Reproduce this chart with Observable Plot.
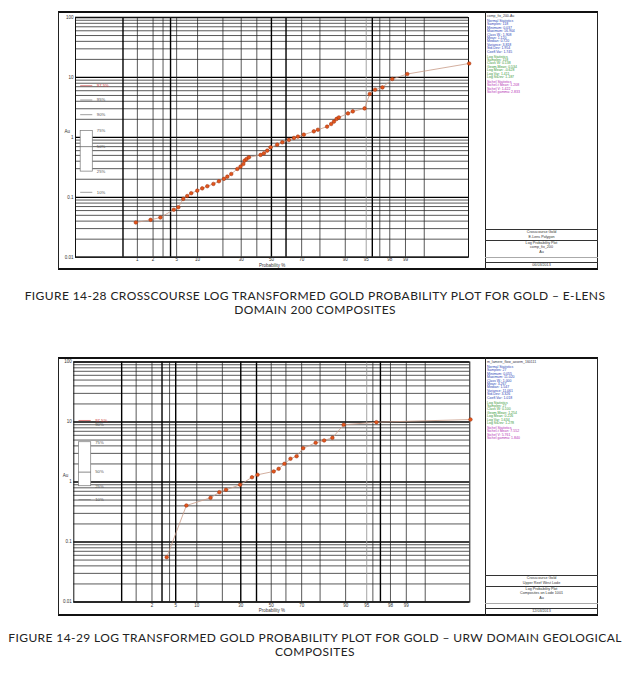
<!DOCTYPE html>
<html><head><meta charset="utf-8">
<script src="https://cdn.jsdelivr.net/npm/d3@7"></script>
<script src="https://cdn.jsdelivr.net/npm/@observablehq/plot@0.6"></script>
<style>
body{margin:0;background:#fff;width:630px;height:676px;position:relative;overflow:hidden;font-family:"Liberation Sans",Arial,sans-serif}
.abs{position:absolute}
.cap{position:absolute;left:0;width:630px;text-align:center;font-family:Lato,"Open Sans",sans-serif;font-size:12px;letter-spacing:0.4px;line-height:14px;color:#222;white-space:nowrap}
.st{position:absolute;font-size:3.5px;line-height:3.5px;white-space:nowrap}
.tb{position:absolute;font-size:3.7px;line-height:3.7px;white-space:nowrap;text-align:center;color:#333}
.hl{position:absolute;height:0;border-top:1px solid #333}
</style></head><body>
<script>
// ---------- data: Figure 14-28 (E-Lens domain 200) ----------
const probA = [0.93,1.8,2.7,4.5,5.3,6.3,7.2,8.2,9.9,11.5,13.3,15.7,18.1,20.5,22.2,24.3,27.7,29.6,31.3,32.1,33.3,34.8,42.5,44.8,47.1,49.4,54,57.5,61.9,65.2,67.7,71.3,76.9,79,83.3,85,86.1,87.1,87.9,90.8,92.1,94.7,95.6,96.4,97.3,98.2,99.08,99.97];
const auA = [0.038,0.042,0.046,0.062,0.068,0.094,0.105,0.117,0.129,0.141,0.153,0.167,0.185,0.203,0.221,0.245,0.297,0.325,0.36,0.409,0.436,0.464,0.509,0.541,0.6,0.681,0.755,0.826,0.906,0.977,1.03,1.11,1.26,1.34,1.51,1.67,1.83,2.03,2.15,2.51,2.71,3.04,5.29,6.24,6.81,9.4,11.4,17.1];
const legValsA = [7.27,4.2,2.39,1.27,0.70,0.268,0.121];
const legLabsA = ["97.5%","95%","90%","75%","50%","25%","10%"];
const xTicksA = [1,2,5,10,30,50,70,90,95,98,99];
const vGridA = [0.5,1,2,3,4,5,10,20,30,40,50,60,70,80,90,95,96,97,98,99,99.6];
const vHeavyA = [0.5,4,50,60,96];
const statTitleA = "comp_fix_200-Au";
const normA = ["Normal Statistics","Samples: 118","Minimum: 0.037","Maximum: 16.904","Class W.: 1.908","Mean: 1.120","Median: 0.720","Variance: 3.818","Std.Dev: 1.954","Coeff.Var: 1.745"];
const logA = ["Log Statistics","Samples: 118","Class W: 0.138","Geom.Mean: 0.534","Log Mean: -0.628","Log Var: 1.411","Log StDev: 1.187"];
const sichA = ["Sichel Statistics","Sichel-t Mean: 1.208","Sichel V: 1.422","Sichel gamma: 2.833"];
const blockA = ["Crosscourse Gold","E-Lens Polygon","Log Probability Plot","comp_fix_200","Au"];
const dateA = "06/03/2013";
const captionA = ["FIGURE 14-28 CROSSCOURSE LOG TRANSFORMED GOLD PROBABILITY PLOT FOR GOLD \u2013 E-LENS","DOMAIN 200 COMPOSITES"];

// ---------- data: Figure 14-29 (URW domain) ----------
const probB = [3.6,7.2,14.8,18.6,21.8,29.6,37,40.7,51.7,55.1,59,63,66.9,70.9,77.8,81.9,85.4,89.4,96.5,99.97];
const auB = [0.0558,0.406,0.545,0.676,0.741,0.898,1.2,1.32,1.5,1.66,2.01,2.44,2.69,3.66,4.5,4.92,5.45,8.98,9.93,11.0];
const legValsB = [10.6,9.08,4.6,1.46,0.85,0.51];
const legLabsB = ["97.5%","90%","75%","50%","25%","10%"];
const xTicksB = [2,5,10,30,50,70,90,95,98,99];
const vGridB = [0.5,1,2,3,4,5,10,20,30,40,50,60,70,80,90,95,96,97,98,99,99.6];
const vHeavyB = [0.5,3,5,30,40,97];
const statTitleB = "m_lamere_flow_assem_160111";
const normB = ["Normal Statistics","Samples: 27","Minimum: 0.055","Maximum: 11.020","Class W.: 1.000","Mean: 3.267","Median: 1.547","Variance: 11.061","Std.Dev: 3.326","Coeff.Var: 1.018"];
const logB = ["Log Statistics","Samples: 27","Class W: 0.100","Geom.Mean: 1.254","Log Mean: 0.226","Log Var: 1.634","Log StDev: 1.278"];
const sichB = ["Sichel Statistics","Sichel-t Mean: 7.552","Sichel V: 5.761","Sichel gamma: 1.840"];
const blockB = ["Crosscourse Gold","Upper Reef West Lode","Log Probability Plot","Composites on Lode 1001","Au"];
const dateB = "12/03/2013";
const captionB = ["FIGURE 14-29 LOG TRANSFORMED GOLD PROBABILITY PLOT FOR GOLD \u2013 URW DOMAIN GEOLOGICAL","COMPOSITES"];

const yTickVals = [100,10,1,0.1,0.01];
const yTickLabs = ["100","10","1","0.1","0.01"];

// inverse normal CDF (Acklam)
function probit(p){
  const a=[-3.969683028665376e+01,2.209460984245205e+02,-2.759285104469687e+02,1.383577518672690e+02,-3.066479806614716e+01,2.506628277459239e+00];
  const b=[-5.447609879822406e+01,1.615858368580409e+02,-1.556989798598866e+02,6.680131188771972e+01,-1.328068155288572e+01];
  const c=[-7.784894002430293e-03,-3.223964580411365e-01,-2.400758277161838e+00,-2.549732539343734e+00,4.374664141464968e+00,2.938163982698783e+00];
  const d=[7.784695709041462e-03,3.224671290700398e-01,2.445134137142996e+00,3.754408661907416e+00];
  const pl=0.02425, ph=1-pl; let q,r;
  if(p<pl){q=Math.sqrt(-2*Math.log(p));return (((((c[0]*q+c[1])*q+c[2])*q+c[3])*q+c[4])*q+c[5])/((((d[0]*q+d[1])*q+d[2])*q+d[3])*q+1);}
  if(p<=ph){q=p-0.5;r=q*q;return (((((a[0]*r+a[1])*r+a[2])*r+a[3])*r+a[4])*r+a[5])*q/(((((b[0]*r+b[1])*r+b[2])*r+b[3])*r+b[4])*r+1);}
  q=Math.sqrt(-2*Math.log(1-p));return -(((((c[0]*q+c[1])*q+c[2])*q+c[3])*q+c[4])*q+c[5])/((((d[0]*q+d[1])*q+d[2])*q+d[3])*q+1);
}
const zx = p => probit(p/100);

const hGrid = [];
for (const dec of [0.01,0.1,1,10]) for (let k=1;k<=9;k++) hGrid.push(+(dec*k).toPrecision(3));
hGrid.push(100);
const hDec = [0.01,0.1,1,10,100];

function buildChart(cfg){
  const pts = cfg.prob.map((p,i)=>({p, v: cfg.au[i]}));
  const lv = cfg.legVals;
  const n = lv.length;
  const q75 = lv[n-4], q50 = lv[n-3], q25 = lv[n-2];
  const plot = Plot.plot({
    width: 540, height: cfg.h,
    marginLeft: cfg.ml, marginRight: cfg.mr, marginTop: cfg.mt, marginBottom: cfg.mb,
    style: {background: "transparent", overflow: "visible", fontFamily: "'Liberation Sans', Arial, sans-serif"},
    x: {domain: [-3.4, 3.42], axis: null},
    y: {type: "log", domain: [0.01, 100], axis: null},
    marks: [
      Plot.ruleY(hGrid.filter(v=>!hDec.includes(v)), {stroke: "#222", strokeWidth: 0.75}),
      Plot.ruleY(hDec, {stroke: "#000", strokeWidth: 1.3}),
      Plot.ruleX(cfg.vGrid.filter(v=>!cfg.vHeavy.includes(v) && v!==95), {x: zx, stroke: "#222", strokeWidth: 0.75}),
      Plot.ruleX([95], {x: zx, stroke: "#999", strokeWidth: 0.9}),
      Plot.ruleX(cfg.vHeavy, {x: zx, stroke: "#000", strokeWidth: 1.4}),
      Plot.frame({stroke: "#111", strokeWidth: 1}),
      // box legend
      Plot.rect([0], {x1: -3.31, x2: -3.1, y1: q25, y2: q75, fill: "#fff", stroke: "#777", strokeWidth: 0.7}),
      Plot.ruleY([q50], {x1: -3.31, x2: -3.1, stroke: "#555", strokeWidth: 0.7}),
      Plot.ruleY(lv.slice(1, n-4).concat([lv[n-1]]), {x1: -3.31, x2: -3.1, stroke: "#777", strokeWidth: 0.7}),
      Plot.ruleY([lv[0]], {x1: -3.31, x2: -3.1, stroke: "#d04848", strokeWidth: 0.7}),
      Plot.text(lv, {x: -3.03, y: d=>d, text: (d,i)=>cfg.legLabs[i], textAnchor: "start", fontSize: 4.2, fill: (d,i)=> i===0 ? "#cc3333" : "#555"}),
      // data
      Plot.line(pts, {x: d=>zx(d.p), y: "v", stroke: "#c89a86", strokeWidth: 0.8}),
      Plot.dot(pts, {x: d=>zx(d.p), y: "v", r: 1.8, fill: "#e2561c", stroke: "#9a2a08", strokeWidth: 0.5}),
      // axes labels
      Plot.text(yTickVals, {y: d=>d, text: (d,i)=>yTickLabs[i], frameAnchor: "left", textAnchor: "end", dx: -2, fontSize: 4.5, fill: "#333"}),
      Plot.text(cfg.xTicks, {x: zx, text: d=>String(d), frameAnchor: "bottom", dy: cfg.tickDy, fontSize: 4.5, fill: "#333"}),
      Plot.text(["Probability %"], {frameAnchor: "bottom", dy: cfg.labDy, fontSize: 4.5, fill: "#333"}),
      Plot.text(["Au"], {frameAnchor: "left", dx: -11, dy: -6, fontSize: 4.5, fill: "#333"})
    ]
  });
  plot.style.position = "absolute";
  plot.style.left = "58px";
  plot.style.top = cfg.top + "px";
  document.body.appendChild(plot);

  const top = cfg.top, bot = cfg.top + cfg.h;
  const add = (cls, css, text) => { const e = document.createElement("div"); e.className = cls; Object.assign(e.style, css); if (text!=null) e.textContent = text; document.body.appendChild(e); return e; };
  // outer frame
  add("abs", {left:"58px", top: top+"px", width:"540px", height: cfg.h+"px", border:"1px solid #222", borderTop:"2px solid #111", borderBottom:"2px solid #111", boxSizing:"border-box"});
  // right panel divider
  add("abs", {left:"485px", top: top+"px", width:"0px", height: cfg.h+"px", borderLeft:"1px solid #222"});
  // stats text
  let y = top + 3.5;
  add("st", {left:"487px", top: y+"px", color:"#334"}, cfg.title);
  y += 5.5;
  cfg.norm.forEach(t => { add("st", {left:"487px", top: y+"px", color:"#2b45b8"}, t); y += 3.4; });
  y += 1.6;
  cfg.log.forEach(t => { add("st", {left:"487px", top: y+"px", color:"#3a9a3a"}, t); y += 3.4; });
  y += 1.6;
  cfg.sich.forEach(t => { add("st", {left:"487px", top: y+"px", color:"#b52fb5"}, t); y += 3.4; });
  // title block
  [41, 30, 8].forEach(o => add("hl", {left:"485px", width:"113px", top: (bot - o)+"px"}));
  add("hl", {left:"485px", width:"113px", top: (bot - 13.5)+"px", borderTopColor:"#aaa"});
  let ty = bot - 39.2;
  cfg.block.forEach((t,i) => { add("tb", {left:"485px", width:"113px", top: ty+"px"}, t); ty += (i===1 ? 6 : 4.8); });
  add("tb", {left:"485px", width:"113px", top: (bot-6)+"px"}, cfg.date);
  // caption
  cfg.caption.forEach((t,i) => add("cap", {top: (cfg.capTop + 14*i)+"px"}, t));
}

buildChart({top: 11, h: 259, ml: 17, mr: 130, mt: 6, mb: 13.3, tickDy: 3.5, labDy: 9.5,
  prob: probA, au: auA, legVals: legValsA, legLabs: legLabsA, xTicks: xTicksA, vGrid: vGridA, vHeavy: vHeavyA,
  title: statTitleA, norm: normA, log: logA, sich: sichA, block: blockA, date: dateA, caption: captionA, capTop: 289});
buildChart({top: 357, h: 259, ml: 15.3, mr: 128.7, mt: 4.5, mb: 14.5, tickDy: 5, labDy: 10,
  prob: probB, au: auB, legVals: legValsB, legLabs: legLabsB, xTicks: xTicksB, vGrid: vGridB, vHeavy: vHeavyB,
  title: statTitleB, norm: normB, log: logB, sich: sichB, block: blockB, date: dateB, caption: captionB, capTop: 631});
</script>
</body></html>
